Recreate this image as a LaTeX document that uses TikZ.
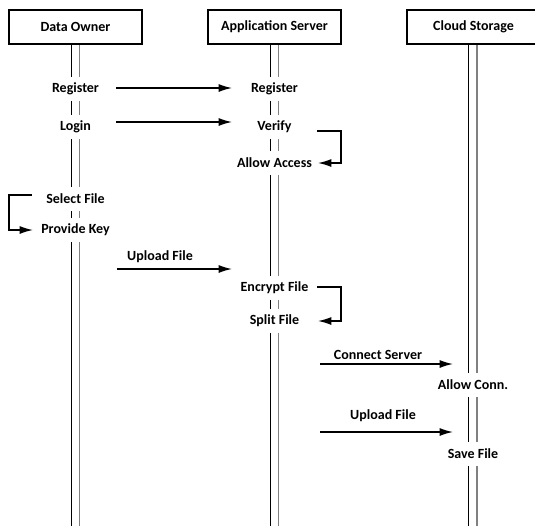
\documentclass[tikz,border=0pt]{standalone}
\usepackage{fontspec}
\setmainfont{Carlito}
\usetikzlibrary{arrows.meta}
\tikzset{
  actor/.style={draw,line width=0.8pt,minimum width=99.75pt,minimum height=25.5pt,font=\fontsize{10.5}{12}\selectfont\bfseries},
  lbl/.style={fill=white,inner xsep=1pt,inner ysep=0pt,minimum height=18pt,font=\fontsize{10.5}{12}\selectfont\bfseries},
  msg/.style={line width=1.1pt,-{Latex[length=10pt,width=6pt]}},
}
\begin{document}
\begin{tikzpicture}[x=0.75pt,y=-0.75pt]
  \useasboundingbox (0,0) rectangle (535,526);
  % lifelines
  \foreach \x in {75.5,274.5,473} {
    \draw[line width=0.7pt] (\x-4.5,44) -- (\x-4.5,526);
    \draw[line width=1.1pt,gray] (\x+4,44) -- (\x+4,526);
  }
  \node[actor](owner)at(75.5,27){Data Owner};
  \node[actor](server)at(274.5,27){Application Server};
  \node[actor](cloud)at(473.5,27){Cloud Storage};

  \node[lbl](reg1)at(75.5,89){Register};
  \node[lbl](reg2)at(274.5,89){Register};
  \node[lbl](login)at(75.5,127){Login};
  \node[lbl](verify)at(274.5,127){Verify};
  \node[lbl](allow)at(274.5,163){Allow Access};
  \node[lbl](select)at(75.5,199){Select File};
  \node[lbl](key)at(75.5,230){Provide Key};
  \node[lbl](up1)at(160,257){Upload File};
  \node[lbl](enc)at(274.5,288){Encrypt File};
  \node[lbl](split)at(274.5,321){Split File};
  \node[lbl](conn)at(378,355){Connect Server};
  \node[lbl](allowc)at(473,385){Allow Conn.};
  \node[lbl](up2)at(383,416){Upload File};
  \node[lbl](save)at(473,454){Save File};

  \coordinate (r1) at (116,88);   \coordinate (r2) at (232,88);
  \coordinate (l1) at (116,122);  \coordinate (l2) at (232,122);
  \coordinate (u1) at (117,269);  \coordinate (u2) at (232,269);
  \coordinate (c1) at (320,364);  \coordinate (c2) at (453,364);
  \coordinate (s1) at (320,432);  \coordinate (s2) at (453,432);
  \coordinate (v1) at (317,131);  \coordinate (v2) at (341,163);  \coordinate (v3) at (318,163);
  \coordinate (k1) at (32,195);   \coordinate (k2) at (9,230);    \coordinate (k3) at (33,230);
  \coordinate (e1) at (317,287);  \coordinate (e2) at (341,321);  \coordinate (e3) at (318,321);

  \draw[msg](r1)--(r2);
  \draw[msg](l1)--(l2);
  \draw[msg](u1)--(u2);
  \draw[msg](c1)--(c2);
  \draw[msg](s1)--(s2);
  \draw[msg](v1)-|(v2)--(v3);
  \draw[msg](k1)-|(k2)--(k3);
  \draw[msg](e1)-|(e2)--(e3);
\end{tikzpicture}
\end{document}
